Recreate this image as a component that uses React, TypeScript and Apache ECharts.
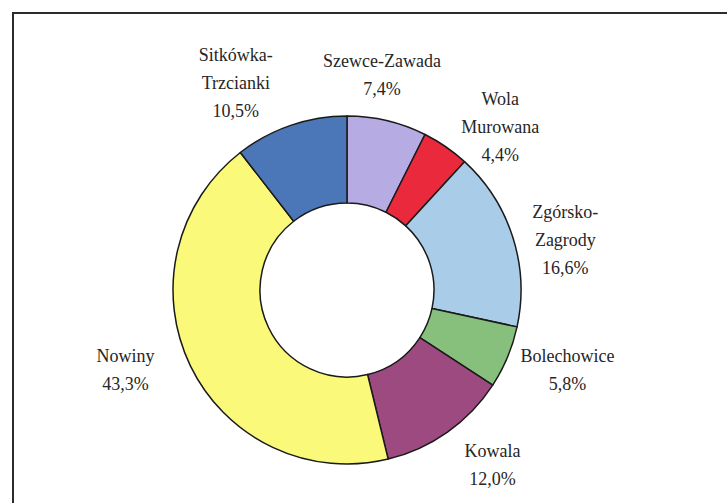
import React, { useEffect, useRef } from "react";
import * as echarts from "echarts";

// Data (clockwise from 12 o'clock)
const categories = [
  "Szewce-Zawada",
  "Wola Murowana",
  "Zgórsko-Zagrody",
  "Bolechowice",
  "Kowala",
  "Nowiny",
  "Sitkówka-Trzcianki",
];
const labelTexts = [
  "Szewce-Zawada",
  "Wola\nMurowana",
  "Zgórsko-\nZagrody",
  "Bolechowice",
  "Kowala",
  "Nowiny",
  "Sitkówka-\nTrzcianki",
];
const shares = [7.4, 4.4, 16.6, 5.8, 12.0, 43.3, 10.5];
const colors = ["#b6abe2", "#ea2a3c", "#a9cce9", "#87c07d", "#9c4a7f", "#fbf97a", "#4b76b7"];

// layout
const CX = 347;
const CY = 290;
const R_OUT = 174;
const R_IN = 87;
const LABEL_DIST = 226;
const FONT = "Liberation Serif, serif";
const labelNudge: [number, number][] = [
  [-17, 5],
  [25, 23],
  [3, 18],
  [12, -7],
  [15, -9],
  [-18, -18],
  [-38, 7],
];

export default function App() {
  const ref = useRef<HTMLDivElement>(null);
  useEffect(() => {
    if (!ref.current) return;
    const chart = echarts.init(ref.current, undefined, { renderer: "svg" });
    const total = shares.reduce((a, b) => a + b, 0);
    const midAngles: number[] = [];
    let acc = 0;
    shares.forEach((v) => {
      midAngles.push(((acc + v / 2) / total) * 2 * Math.PI);
      acc += v;
    });
    chart.setOption({
      animation: false,
      backgroundColor: "#ffffff",
      textStyle: { fontFamily: FONT },
      graphic: [
        {
          type: "rect",
          shape: { x: 13, y: 13, width: 800, height: 600 },
          style: { fill: "none", stroke: "#2b2b2b", lineWidth: 2 },
          silent: true,
        },
      ],
      series: [
        {
          type: "pie",
          center: [CX, CY],
          radius: [R_IN, R_OUT],
          startAngle: 90,
          clockwise: true,
          avoidLabelOverlap: false,
          data: categories.map((c, i) => ({
            name: c,
            value: shares[i],
            itemStyle: { color: colors[i] },
          })),
          itemStyle: { borderColor: "#1a1a1a", borderWidth: 1.5 },
          label: {
            show: true,
            position: "outside",
            formatter: (p: any) =>
              labelTexts[p.dataIndex] + "\n" + p.value.toFixed(1).replace(".", ",") + "%",
            fontFamily: FONT,
            fontSize: 18,
            lineHeight: 28,
            color: "#262626",
            align: "center",
          },
          labelLine: { show: false },
          labelLayout: (params: any) => {
            const i = params.dataIndex;
            const a = midAngles[i];
            return {
              x: CX + Math.sin(a) * LABEL_DIST + labelNudge[i][0],
              y: CY - Math.cos(a) * LABEL_DIST + labelNudge[i][1],
              align: "center",
              verticalAlign: "middle",
            };
          },
          emphasis: { disabled: true },
        },
      ],
    });
    return () => chart.dispose();
  }, []);
  return (
    <div
      ref={ref}
      style={{ position: "fixed", left: 0, top: 0, width: 727, height: 503, background: "#fff" }}
    />
  );
}
